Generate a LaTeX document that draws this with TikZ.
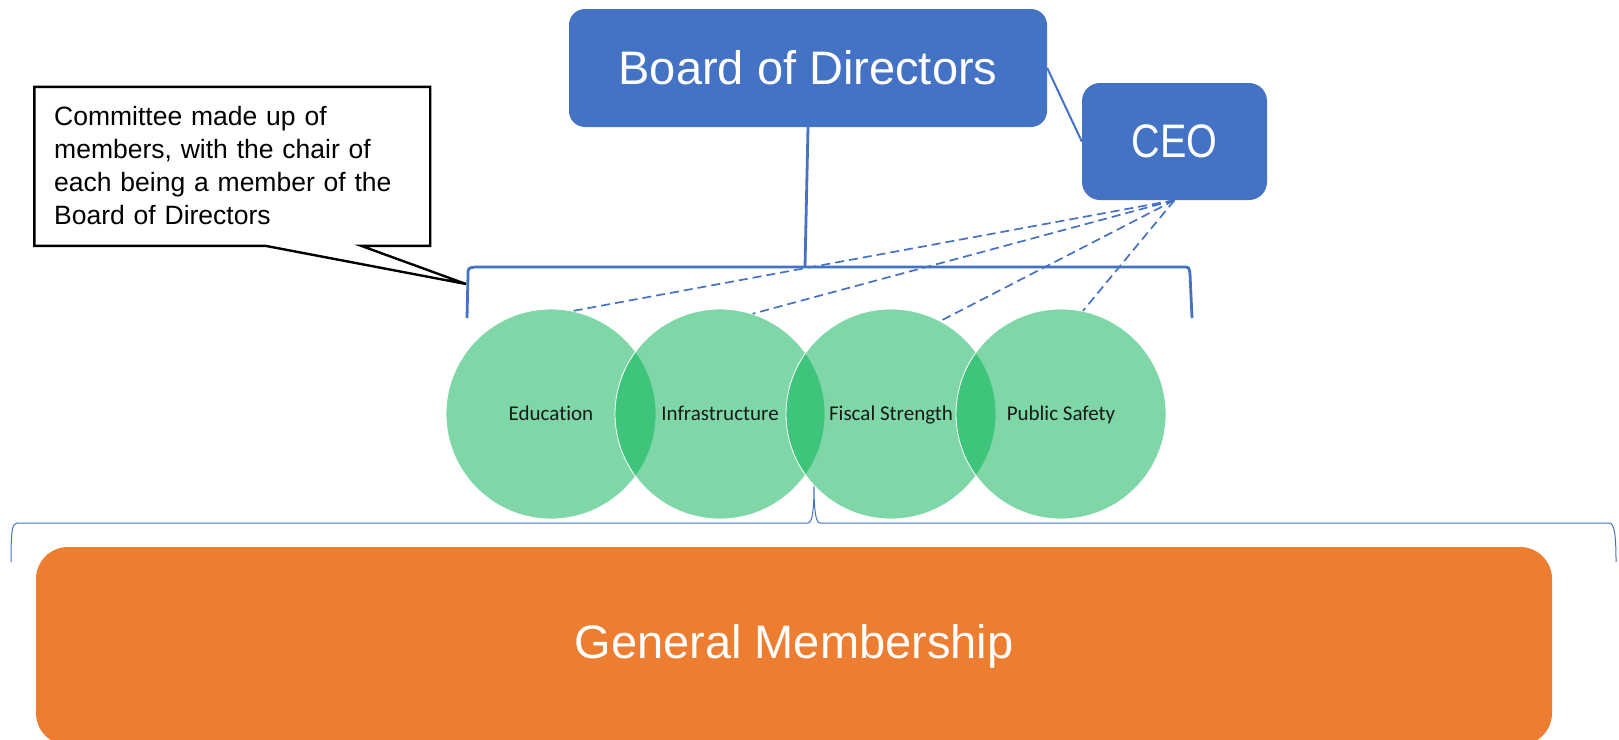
\documentclass[tikz,border=0pt]{standalone}
\usepackage{fontspec}
\setmainfont{Liberation Sans}
\newfontfamily\cfnt[Ligatures=NoCommon]{Carlito}
\newfontfamily\narrowfnt[FakeStretch=0.84]{Liberation Sans}
\usetikzlibrary{calc}
\definecolor{obblue}{HTML}{4472C4}
\definecolor{oborange}{HTML}{ED7D31}
\definecolor{obgreen}{HTML}{00B050}
\tikzset{
  bluebox/.style={fill=obblue, draw=none, text=white, inner sep=0pt},
  bigtext/.style={font=\fontsize{47}{56}\selectfont},
  circnode/.style={circle, minimum size=210pt, inner sep=0pt, fill=obgreen, fill opacity=0.5, text opacity=1, draw=white, line width=0.8pt, font=\cfnt\fontsize{21}{25}\selectfont, text=black!90, text height=16pt, text depth=2.4pt},
  blueline/.style={draw=obblue, line width=2.8pt},
  thinblue/.style={draw=obblue, line width=1pt},
  dashline/.style={draw=obblue, line width=1.7pt, dash pattern=on 9pt off 5pt},
  notebox/.style={draw=black, line width=2.4pt, fill=white, line join=miter}
}
\begin{document}
\begin{tikzpicture}[x=1pt,y=-1pt]
\useasboundingbox (0,0) rectangle (1619,739);
% General membership
\begin{scope}
\clip (0,0) rectangle (1619,739);
\node[fill=oborange, rounded corners=32pt, minimum width=1516pt, minimum height=198pt, inner sep=0pt, text=white, bigtext] (gm) at (794,646) {General Membership};
\end{scope}
% bottom brace
\coordinate (botcusp) at (814,485);
\draw[thinblue] (11,562) .. controls (11,532) and (12,523) .. (17,523) -- (808,523) .. controls (812,523) and (814,512) .. (botcusp) .. controls (814,512) and (816,523) .. (820,523) -- (1609,523) .. controls (1614,523) and (1616,532) .. (1616,562);
% boxes
\node[bluebox, rounded corners=16pt, minimum width=478pt, minimum height=118pt, bigtext] (board) at (808,68) {Board of Directors};
\node[bluebox, rounded corners=18pt, minimum width=185pt, minimum height=117pt, font=\narrowfnt\fontsize{47}{56}\selectfont] (ceo) at (1174.5,141.5) {CEO};
\draw[draw=obblue, line width=2pt] (board.east) -- (ceo.west);
% top bracket
\coordinate (topcusp) at (805,267);
\draw[blueline] (board.south) -- (topcusp);
\draw[blueline, line join=round] (467,318) -- (468,275) .. controls (468,268) .. (475,267) -- (1183,267) .. controls (1189,267) .. (1190,274) -- (1192,318);
% circles
\node[circnode] (edu) at (551,414) {Education};
\node[circnode] (inf) at (720,414) {Infrastructure};
\node[circnode] (fis) at (891,414) {Fiscal Strength};
\node[circnode] (pub) at (1061,414) {Public Safety};
% dashed connectors
\draw[dashline] (ceo.south) -- (edu.78);
\draw[dashline] (ceo.south) -- (inf.72);
\draw[dashline] (ceo.south) -- (fis.62);
\draw[dashline] (ceo.south) -- (pub.78);
% callout
\coordinate (tip) at (466,284);
\node[minimum width=395.4pt, minimum height=158.7pt, inner sep=0pt] (note) at (232.3,166.35) {};
\draw[notebox] (note.north west) -- (note.north east) -- (note.south east) -- ($(note.south west)+(327,0)$) -- (tip) -- ($(note.south west)+(231.4,0)$) -- (note.south west) -- cycle;
\node[anchor=north west, inner sep=0pt, text width=370pt, align=left, font=\fontsize{26.5}{33}\selectfont] (notetext) at (54,106.5) {Committee made up of\\members, with the chair of\\each being a member of the\\Board of Directors};
\end{tikzpicture}
\end{document}
